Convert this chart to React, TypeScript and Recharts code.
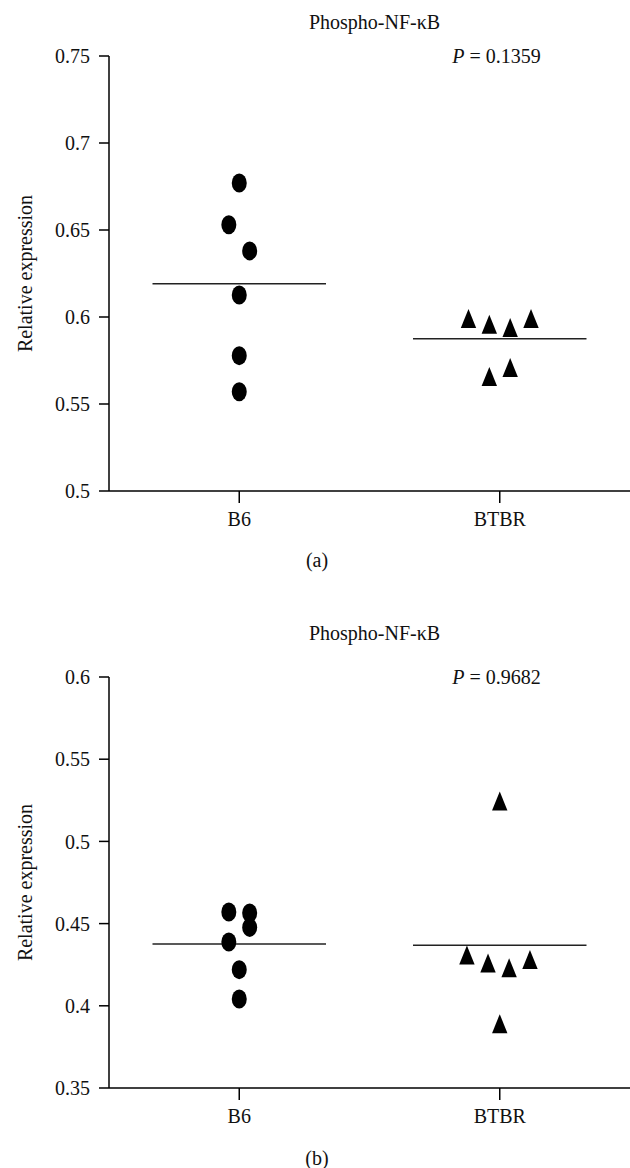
import React from "react";
import { ScatterChart, Scatter, XAxis, YAxis, ReferenceLine, Label } from "recharts";

const groups = ["B6", "BTBR"];
const groupTicks = [0.5, 1.5];

// panel (a)
const aTicks = [0.5, 0.55, 0.6, 0.65, 0.7, 0.75];
const aB6 = [
  { x: 0.5, y: 0.677 },
  { x: 0.46, y: 0.653 },
  { x: 0.54, y: 0.638 },
  { x: 0.5, y: 0.6126 },
  { x: 0.5, y: 0.5778 },
  { x: 0.5, y: 0.557 },
];
const aBTBR = [
  { x: 1.38, y: 0.5973 },
  { x: 1.46, y: 0.594 },
  { x: 1.54, y: 0.5921 },
  { x: 1.62, y: 0.5973 },
  { x: 1.46, y: 0.5639 },
  { x: 1.54, y: 0.5691 },
];
const aMeans = [0.6191, 0.5875];
const aP = "0.1359";

// panel (b)
const bTicks = [0.35, 0.4, 0.45, 0.5, 0.55, 0.6];
const bB6 = [
  { x: 0.46, y: 0.4571 },
  { x: 0.54, y: 0.4565 },
  { x: 0.54, y: 0.4477 },
  { x: 0.46, y: 0.4388 },
  { x: 0.5, y: 0.422 },
  { x: 0.5, y: 0.4041 },
];
const bBTBR = [
  { x: 1.5, y: 0.5226 },
  { x: 1.374, y: 0.429 },
  { x: 1.455, y: 0.4241 },
  { x: 1.536, y: 0.4212 },
  { x: 1.616, y: 0.4262 },
  { x: 1.5, y: 0.3872 },
];
const bMeans = [0.4376, 0.4368];
const bP = "0.9682";

const meanHalf = 0.333;
const font = "'Liberation Serif', 'DejaVu Serif', serif";
const ink = "#111";

const DotShape = (props: any) => (
  <ellipse cx={props.cx} cy={props.cy} rx={7.5} ry={9.5} fill="#000" />
);

const TriShape = (props: any) => {
  const { cx, cy } = props;
  return (
    <polygon
      points={`${cx},${cy - 12.7} ${cx - 7.7},${cy + 6.3} ${cx + 7.7},${cy + 6.3}`}
      fill="#000"
    />
  );
};

const YLabel = (props: any) => {
  const vb = props.viewBox;
  const cx = vb.x + 25;
  const cy = vb.y + vb.height / 2;
  return (
    <text
      x={cx}
      y={cy}
      transform={`rotate(-90 ${cx} ${cy})`}
      textAnchor="middle"
      dominantBaseline="central"
      fill={ink}
      fontSize={20}
      fontFamily={font}
    >
      Relative expression
    </text>
  );
};

type PanelProps = {
  height: number;
  top: number;
  bottom: number;
  ticks: number[];
  b6: { x: number; y: number }[];
  btbr: { x: number; y: number }[];
  means: number[];
  p: string;
  tag: string;
  titleY: number;
  tagY: number;
};

function Panel({ height, top, bottom, ticks, b6, btbr, means, p, tag, titleY, tagY }: PanelProps) {
  const textStyle: React.CSSProperties = {
    position: "absolute",
    transform: "translate(-50%, -50%)",
    whiteSpace: "nowrap",
    fontFamily: font,
    fontSize: 20,
    lineHeight: 1,
    color: ink,
  };
  return (
    <div style={{ position: "relative", width: 630, height }}>
      <ScatterChart width={630} height={height} margin={{ top, right: 0, bottom, left: 0 }}>
        <XAxis
          type="number"
          dataKey="x"
          domain={[0, 2]}
          ticks={groupTicks}
          tickFormatter={(v: number) => groups[groupTicks.indexOf(v)]}
          axisLine={{ stroke: "#000", strokeWidth: 1.5 }}
          tickLine={{ stroke: "#000", strokeWidth: 1.5 }}
          tickSize={12}
          tickMargin={9}
          tick={{ fill: ink, fontSize: 20, fontFamily: font }}
        />
        <YAxis
          type="number"
          dataKey="y"
          domain={[ticks[0], ticks[ticks.length - 1]]}
          ticks={ticks}
          width={109}
          axisLine={{ stroke: "#000", strokeWidth: 1.5 }}
          tickLine={{ stroke: "#000", strokeWidth: 1.5 }}
          tickSize={10}
          tickMargin={9}
          tick={{ fill: ink, fontSize: 20, fontFamily: font }}
        >
          <Label content={YLabel} />
        </YAxis>
        {means.map((m, i) => (
          <ReferenceLine
            key={i}
            segment={[
              { x: groupTicks[i] - meanHalf, y: m },
              { x: groupTicks[i] + meanHalf, y: m },
            ]}
            stroke="#222"
            strokeWidth={1.5}
          />
        ))}
        <Scatter data={b6} shape={DotShape} isAnimationActive={false} />
        <Scatter data={btbr} shape={TriShape} isAnimationActive={false} />
      </ScatterChart>
      <div style={{ ...textStyle, left: 374.5, top: titleY }}>Phospho-NF-κB</div>
      <div style={{ ...textStyle, left: 496.5, top: top }}>
        <i>P</i> = {p}
      </div>
      <div style={{ ...textStyle, left: 317, top: tagY }}>{tag}</div>
    </div>
  );
}

export default function App() {
  return (
    <div style={{ position: "absolute", left: 0, top: 0, width: 630, height: 1168, background: "#fff" }}>
      <Panel
        height={580}
        top={56}
        bottom={59}
        ticks={aTicks}
        b6={aB6}
        btbr={aBTBR}
        means={aMeans}
        p={aP}
        tag="(a)"
        titleY={22}
        tagY={560}
      />
      <Panel
        height={588}
        top={97}
        bottom={50}
        ticks={bTicks}
        b6={bB6}
        btbr={bBTBR}
        means={bMeans}
        p={bP}
        tag="(b)"
        titleY={53}
        tagY={578}
      />
    </div>
  );
}
